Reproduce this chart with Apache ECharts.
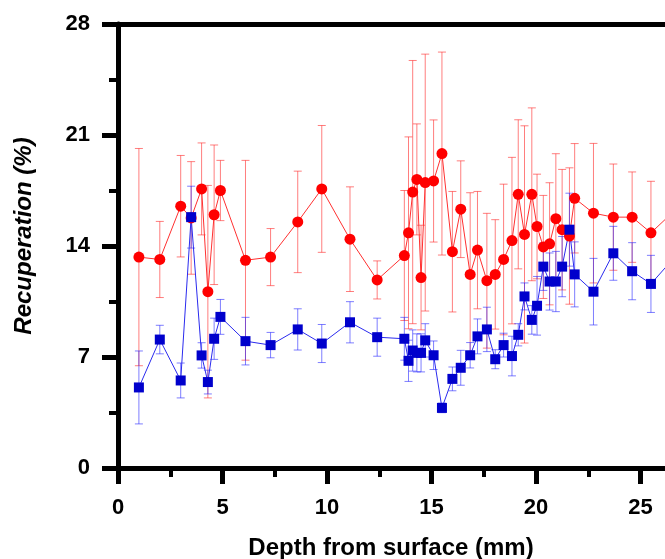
<!DOCTYPE html>
<html lang="en">
<head>
    <meta charset="UTF-8">
    <title>Recuperation</title>
    <style>
        * {
            margin: 0;
            padding: 0;
        }

        html, body {
            height: 100%;
            width: 100%;
            overflow: hidden;
            background: #fff;
        }
    </style>
    <script src="https://cdn.jsdelivr.net/npm/echarts@6/dist/echarts.min.js"></script>
</head>
<body>

<!-- the original figure is cut off at the right edge, so the chart is wider than the window -->
<div id="main" style="width: 748px;height: 559px;"></div>

<script>
    // depth positions (mm), shared by both series
    var depth = [1.0, 2.0, 3.0, 3.5, 4.0, 4.3, 4.6, 4.9, 6.1, 7.3, 8.6, 9.75, 11.1, 12.4, 13.7, 13.9, 14.1, 14.3, 14.5, 14.7,
        15.1, 15.5, 16.0, 16.4, 16.85, 17.2, 17.65, 18.05, 18.45, 18.85, 19.15, 19.45, 19.8, 20.05, 20.35, 20.65, 20.95,
        21.25, 21.6, 21.85, 22.75, 23.7, 24.6, 25.5, 26.5];

    // red series: mean and error
    var redMean = [13.3, 13.15, 16.51, 15.77, 17.6, 11.12, 15.97, 17.5, 13.1, 13.3, 15.52, 17.6, 14.43, 11.86, 13.4, 14.83,
        17.4, 18.2, 12.01, 18.0, 18.1, 19.83, 13.64, 16.32, 12.21, 13.74, 11.81, 12.21, 13.15, 14.34, 17.26, 14.73, 17.26,
        15.23, 13.94, 14.14, 15.72, 15.03, 14.63, 17.01, 16.07, 15.82, 15.82, 14.83, 16.07];
    var redErr = [6.85, 2.4, 3.2, 3.55, 2.9, 6.7, 4.4, 1.9, 6.3, 1.8, 3.2, 4.0, 3.3, 1.2, 4.1, 6.05,
        8.3, 3.5, 3.3, 8.1, 3.85, 6.4, 3.8, 3.05, 5.15, 3.7, 4.25, 3.45, 4.75, 5.25, 4.7, 6.85, 5.45,
        3.3, 3.25, 3.85, 4.1, 3.8, 4.3, 3.45, 4.4, 3.35, 2.85, 3.25, 3.45];

    // blue series: mean and error
    var blueMean = [5.08, 8.1, 5.52, 15.82, 7.1, 5.42, 8.15, 9.53, 8.0, 7.75, 8.74, 7.85, 9.19, 8.25, 8.15, 6.76,
        7.41, 7.26, 7.26, 8.05, 7.11, 3.79, 5.62, 6.32, 7.11, 8.3, 8.74, 6.86, 7.75, 7.06, 8.4, 10.82, 9.34,
        10.23, 12.7, 11.76, 11.76, 12.7, 15.03, 12.21, 11.12, 13.54, 12.41, 11.61, 13.1];
    var blueErr = [2.3, 0.9, 1.1, 1.95, 0.8, 0.75, 1.3, 1.1, 1.5, 0.8, 1.3, 1.2, 1.3, 1.2, 1.35, 1.3,
        1.3, 1.2, 1.2, 1.05, 0.9, 0.3, 0.75, 1.1, 0.8, 1.1, 1.4, 0.6, 0.75, 1.25, 0.7, 0.85, 0.9,
        1.85, 1.5, 1.8, 1.9, 1.9, 2.3, 2.05, 2.1, 1.7, 1.8, 1.8, 1.8];

    var xTicks = [0, 5, 10, 15, 20, 25];
    var yTicks = [0, 7, 14, 21, 28];

    var myChart = echarts.init(document.getElementById('main'));

    function pairs(ys) {
        return depth.map(function (x, i) { return [x, ys[i]]; });
    }

    function errData(ys, es) {
        return depth.map(function (x, i) { return [x, ys[i] - es[i], ys[i] + es[i]]; });
    }

    // vertical error bar with caps, placed through the axes
    function errBar(color) {
        return function (params, api) {
            var lo = api.coord([api.value(0), api.value(1)]);
            var hi = api.coord([api.value(0), api.value(2)]);
            var w = 4;
            var st = {stroke: color, lineWidth: 1};
            return {
                type: 'group',
                children: [
                    {type: 'line', shape: {x1: lo[0], y1: lo[1], x2: hi[0], y2: hi[1]}, style: st},
                    {type: 'line', shape: {x1: lo[0] - w, y1: lo[1], x2: lo[0] + w, y2: lo[1]}, style: st},
                    {type: 'line', shape: {x1: hi[0] - w, y1: hi[1], x2: hi[0] + w, y2: hi[1]}, style: st}
                ]
            };
        };
    }

    var labelFont = {fontFamily: 'Liberation Sans', fontWeight: 'bold', fontSize: 22, color: '#000'};

    var option = {
        animation: false,
        grid: {left: 118, top: 24, right: 0, bottom: 91},
        xAxis: [
            {
                type: 'value',
                min: 0,
                max: 30,
                interval: 5,
                axisLine: {lineStyle: {color: '#000', width: 5}},
                axisTick: {length: 16, lineStyle: {color: '#000', width: 5}},
                minorTick: {show: true, splitNumber: 2, length: 9, lineStyle: {color: '#000', width: 4}},
                axisLabel: Object.assign({
                    margin: 29,
                    formatter: function (v) { return xTicks.indexOf(v) >= 0 ? String(v) : ''; }
                }, labelFont),
                splitLine: {show: false}
            },
            {
                // top frame line
                type: 'value',
                position: 'top',
                min: 0,
                max: 30,
                axisLine: {show: true, onZero: false, lineStyle: {color: '#000', width: 5}},
                axisTick: {show: false},
                axisLabel: {show: false},
                splitLine: {show: false}
            }
        ],
        yAxis: {
            type: 'value',
            min: 0,
            max: 28,
            interval: 7,
            axisLine: {show: true, lineStyle: {color: '#000', width: 5}},
            axisTick: {length: 16, lineStyle: {color: '#000', width: 5}},
            minorTick: {show: true, splitNumber: 2, length: 9, lineStyle: {color: '#000', width: 4}},
            axisLabel: Object.assign({
                margin: 28,
                formatter: function (v) { return yTicks.indexOf(v) >= 0 ? String(v) : ''; }
            }, labelFont),
            splitLine: {show: false}
        },
        graphic: [
            {
                type: 'text',
                x: 391,
                y: 548,
                style: {
                    text: 'Depth from surface (mm)',
                    font: 'bold 24px "Liberation Sans"',
                    fill: '#000',
                    align: 'center',
                    verticalAlign: 'middle'
                }
            },
            {
                type: 'text',
                x: 24,
                y: 236,
                rotation: Math.PI / 2,
                style: {
                    text: 'Recuperation (%)',
                    font: 'italic bold 24px "Liberation Sans"',
                    fill: '#000',
                    align: 'center',
                    verticalAlign: 'middle'
                }
            }
        ],
        series: [
            {
                type: 'custom',
                renderItem: errBar('rgba(255,40,40,0.6)'),
                data: errData(redMean, redErr),
                clip: true,
                z: 1
            },
            {
                type: 'custom',
                renderItem: errBar('rgba(40,40,255,0.6)'),
                data: errData(blueMean, blueErr),
                clip: true,
                z: 1
            },
            {
                name: 'red',
                type: 'line',
                data: pairs(redMean),
                symbol: 'circle',
                symbolSize: 11,
                itemStyle: {color: '#ff0000'},
                lineStyle: {color: '#ff3030', width: 1},
                clip: true,
                z: 3
            },
            {
                name: 'blue',
                type: 'line',
                data: pairs(blueMean),
                symbol: 'rect',
                symbolSize: 10,
                itemStyle: {color: '#0000cc'},
                lineStyle: {color: '#2a2aee', width: 1},
                clip: true,
                z: 3
            }
        ]
    };
    myChart.setOption(option);
</script>

</body>
</html>
